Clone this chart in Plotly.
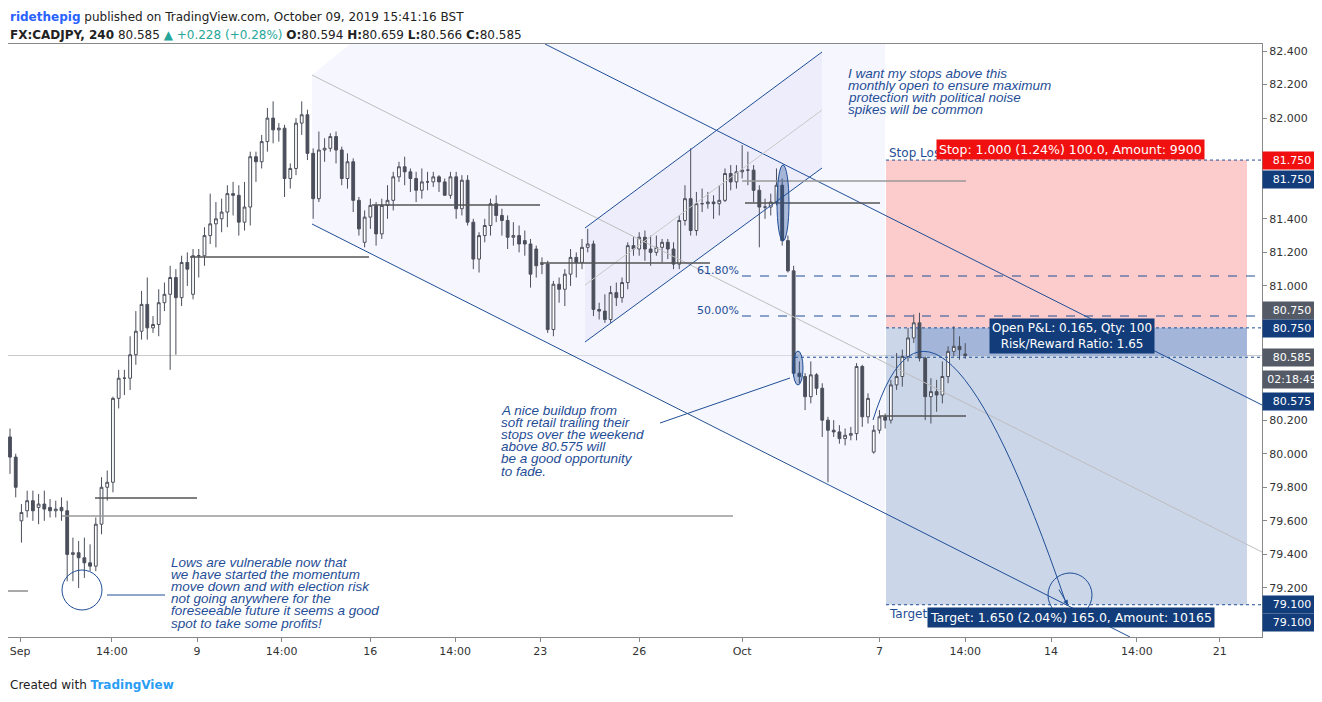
import plotly.graph_objects as go

# ---------------- data (4h candles, FX:CADJPY) ----------------
opens = [80.10,79.98,79.60,79.66,79.72,79.68,79.70,79.68,79.66,79.68,79.66,79.40,79.41,79.38,79.35,79.33,79.58,79.80,79.83,80.33,
         80.45,80.45,80.59,80.73,80.89,80.75,80.77,80.90,80.95,81.05,80.93,81.14,80.95,81.18,81.18,81.30,81.37,81.40,81.44,81.55,
         81.54,81.38,81.47,81.77,81.74,81.86,82.00,81.93,81.94,81.64,81.70,81.97,82.02,81.79,81.52,81.81,81.82,81.89,81.81,81.64,
         81.74,81.51,81.26,81.41,81.48,81.31,81.48,81.51,81.65,81.71,81.68,81.64,81.57,81.62,81.62,81.65,81.62,81.54,81.65,81.46,
         81.63,81.38,81.16,81.30,81.36,81.49,81.42,81.39,81.29,81.30,81.27,81.25,81.22,81.13,81.13,80.74,81.01,80.98,81.07,81.17,
         81.14,81.23,81.25,80.86,80.85,80.80,80.96,80.93,81.02,81.24,81.22,81.29,81.22,81.20,81.23,81.26,81.22,81.13,81.39,81.52,
         81.33,81.49,81.49,81.50,81.49,81.51,81.67,81.62,81.68,81.69,81.69,81.57,81.47,81.47,81.50,81.60,81.27,81.09,80.48,80.46,
         80.34,80.47,80.39,80.20,80.14,80.13,80.09,80.11,80.12,80.52,80.22,80.01,80.14,80.22,80.20,80.41,80.46,80.58,80.69,80.78,
         80.57,80.34,80.37,80.35,80.46,80.61,80.64,80.594]
closes = [79.98,79.80,79.65,79.72,79.66,79.70,79.67,79.66,79.67,79.66,79.40,79.41,79.38,79.35,79.33,79.58,79.80,79.83,80.33,80.45,
          80.45,80.59,80.73,80.89,80.75,80.77,80.90,80.95,81.05,80.93,81.14,81.10,81.18,81.18,81.30,81.37,81.40,81.44,81.55,81.54,
          81.38,81.47,81.77,81.74,81.86,82.00,81.93,81.94,81.64,81.70,81.97,82.02,81.79,81.52,81.81,81.82,81.89,81.81,81.64,81.74,
          81.51,81.34,81.41,81.48,81.31,81.48,81.51,81.65,81.71,81.68,81.64,81.57,81.62,81.62,81.65,81.62,81.54,81.65,81.46,81.63,
          81.38,81.16,81.30,81.36,81.49,81.42,81.39,81.29,81.30,81.25,81.25,81.07,81.12,81.13,80.74,81.01,80.98,81.07,81.17,81.14,
          81.23,81.25,80.86,80.85,80.80,80.96,80.93,81.02,81.24,81.22,81.29,81.22,81.20,81.23,81.26,81.22,81.13,81.39,81.52,81.33,
          81.49,81.49,81.50,81.49,81.51,81.67,81.62,81.68,81.69,81.69,81.57,81.47,81.47,81.50,81.60,81.27,81.09,80.48,80.46,80.34,
          80.47,80.39,80.20,80.14,80.13,80.09,80.11,80.12,80.52,80.22,80.33,80.14,80.22,80.20,80.41,80.46,80.58,80.69,80.78,80.57,
          80.34,80.37,80.35,80.46,80.61,80.64,80.62,80.585]
highs = [80.15,80.00,79.70,79.78,79.78,79.76,79.78,79.73,79.72,79.74,79.72,79.50,79.48,79.50,79.46,79.62,79.86,79.90,80.34,80.50,
         80.50,80.70,80.85,80.97,81.05,80.82,80.98,81.02,81.12,81.10,81.18,81.20,81.22,81.22,81.35,81.55,81.50,81.52,81.60,81.62,
         81.60,81.62,81.80,81.80,81.90,82.06,82.10,81.97,81.96,81.73,82.00,82.10,82.05,81.82,81.92,81.88,81.91,81.92,81.83,81.79,
         81.76,81.53,81.45,81.52,81.50,81.52,81.60,81.68,81.74,81.77,81.70,81.68,81.70,81.68,81.68,81.66,81.64,81.68,81.68,81.66,
         81.66,81.40,81.32,81.40,81.52,81.54,81.46,81.42,81.38,81.36,81.33,81.28,81.24,81.17,81.15,81.03,81.05,81.10,81.22,81.20,
         81.28,81.34,81.27,80.90,80.95,81.00,81.02,81.05,81.26,81.29,81.32,81.33,81.30,81.30,81.28,81.28,81.26,81.42,81.60,81.82,
         81.56,81.58,81.56,81.54,81.60,81.70,81.72,81.72,81.84,81.80,81.72,81.60,81.52,81.55,81.70,81.64,81.30,81.12,80.55,80.48,
         80.55,80.48,80.42,80.22,80.20,80.17,80.15,80.16,80.54,80.53,80.36,80.17,80.26,80.24,80.44,80.60,80.62,80.75,80.83,80.84,
         80.58,80.45,80.44,80.55,80.64,80.76,80.70,80.659]
lows = [79.88,79.74,79.47,79.62,79.60,79.58,79.60,79.62,79.62,79.60,79.24,79.24,79.20,79.26,79.30,79.30,79.52,79.72,79.77,80.27,
        80.35,80.38,80.53,80.68,80.68,80.72,80.70,80.85,80.50,80.59,80.88,81.00,80.92,81.05,81.12,81.25,81.23,81.32,81.35,81.42,
        81.30,81.33,81.36,81.62,81.70,81.80,81.85,81.86,81.53,81.58,81.66,81.90,81.75,81.40,81.50,81.74,81.80,81.73,81.60,81.58,
        81.44,81.30,81.23,81.34,81.24,81.28,81.40,81.45,81.62,81.60,81.56,81.50,81.52,81.57,81.59,81.56,81.54,81.52,81.40,81.42,
        81.36,81.10,81.08,81.26,81.30,81.38,81.30,81.22,81.24,81.20,81.18,80.99,81.05,81.07,80.72,80.70,80.90,80.88,81.00,81.05,
        81.10,81.20,80.82,80.80,80.78,80.78,80.88,80.90,80.98,81.18,81.18,81.15,81.12,81.18,81.14,81.16,81.10,81.10,81.36,81.30,
        81.30,81.44,81.46,81.40,81.42,81.50,81.57,81.58,81.64,81.60,81.50,81.23,81.40,81.42,81.48,81.24,81.08,80.46,80.42,80.26,
        80.30,80.35,80.10,79.83,80.10,80.06,80.05,80.08,80.08,80.16,80.18,80.00,80.12,80.15,80.18,80.38,80.40,80.55,80.66,80.55,
        80.20,80.18,80.25,80.30,80.42,80.58,80.56,80.566]

tick_labels = ["Sep", "14:00", "9", "14:00", "16", "14:00", "23", "26", "Oct", "7", "14:00", "14", "14:00", "21"]
tick_pos = [1.75, 17.8, 32.7, 47.5, 63, 77.8, 92.7, 110, 128, 152, 167, 182, 197, 211.5]
price_ticks = [79.2, 79.4, 79.6, 79.8, 80.0, 80.2, 81.0, 81.2, 81.4, 82.0, 82.2, 82.4]

stop_price, entry_price, target_price, last_price = 81.75, 80.75, 79.10, 80.585

note_top = ["I want my stops above this", "monthly open to ensure maximum",
            "protection with political noise", "spikes will be common"]
note_mid = ["A nice buildup from", "soft retail trailing their", "stops over the weekend",
            "above 80.575 will", "be a good opportunity", "to fade."]
note_low = ["Lows are vulnerable now that", "we have started the momentum",
            "move down and with election risk", "not going anywhere for the",
            "foreseeable future it seems a good", "spot to take some profits!"]

# ---------------- pixel helpers for drawings (window pixels) ----------------
def X(p): return (p - 10) / 5.72
def Y(p): return 82.4 - (p - 51) / 167.8

idx = list(range(len(opens)))
fig = go.Figure()

BLUE = "#1f4e96"
NAVY = "#133d7a"
shapes = []
def line(x0, y0, x1, y1, color=BLUE, w=1, dash=None):
    shapes.append(dict(type="line", x0=X(x0), y0=Y(y0), x1=X(x1), y1=Y(y1),
                       line=dict(color=color, width=w, dash=dash), layer="above"))
def poly(pts, fill, layer="below"):
    d = "M " + " L ".join(f"{X(a)},{Y(b)}" for a, b in pts) + " Z"
    shapes.append(dict(type="path", path=d, fillcolor=fill, line=dict(width=0), layer=layer))
def rect(x0, y0, x1, y1, fill):
    shapes.append(dict(type="rect", x0=X(x0), x1=X(x1), y0=y0, y1=y1, fillcolor=fill,
                       line=dict(width=0), layer="below"))

poly([(312, 75), (312, 224), (885, 512), (885, 44), (350, 44)], "rgba(236,236,252,0.45)")
poly([(585, 228), (585, 342), (822, 168), (822, 52)], "rgba(232,232,250,0.6)")
rect(886, entry_price, 1247, stop_price, "rgba(250,170,170,0.6)")
rect(886, target_price, 1247, entry_price, "rgba(160,180,215,0.55)")
rect(915, last_price, 1247, entry_price, "rgba(90,120,185,0.35)")

line(545, 44, 1262, 405)
line(312, 224, 1130, 637)
line(312, 75, 1262, 552, color="#bdbdbd")
line(585, 228, 822, 52)
line(585, 342, 822, 168)
line(585, 285, 822, 110, color="#c8c8c8")
line(8, 591, 28, 591, color="#555")
line(95, 498, 197, 498, color="#555", w=1.5)
line(62, 516, 733, 516, color="#999", w=1.5)
line(190, 257, 369, 257, color="#555", w=1.5)
line(372, 205, 540, 205, color="#555", w=1.5)
line(540, 263, 710, 263, color="#555", w=1.5)
line(742, 181, 966, 181, color="#999", w=1.5)
line(745, 203, 880, 203, color="#555", w=1.5)
line(880, 416, 966, 416, color="#555", w=1.5)
shapes.append(dict(type="line", xref="paper", x0=0, x1=1, y0=last_price, y1=last_price,
                   line=dict(color="#c8c8c8", width=1), layer="below"))
line(742, 276, 1262, 276, dash="dash")
line(742, 316, 1262, 316, dash="dash")
for pr, x0 in [(stop_price, 886), (entry_price, 886), (80.575, 795), (target_price, 886)]:
    shapes.append(dict(type="line", x0=X(x0), x1=X(1262), y0=pr, y1=pr, line=dict(color=BLUE, width=1, dash="dot")))
line(660, 423, 790, 378)
line(107, 595, 165, 595)
def ell(cx, cy, rx, ry, fill="rgba(0,0,0,0)"):
    shapes.append(dict(type="circle", x0=X(cx - rx), x1=X(cx + rx), y0=Y(cy + ry), y1=Y(cy - ry),
                       line=dict(color=BLUE, width=1), fillcolor=fill, layer="above"))
ell(82, 590, 20, 20)
ell(1070, 595, 22, 22)
ell(783, 203, 6, 38, "rgba(31,78,150,0.35)")
ell(798, 368, 5, 17, "rgba(31,78,150,0.35)")
shapes.append(dict(type="path", path=f"M {X(873)},{Y(420)} Q {X(935)},{Y(220)} {X(1066)},{Y(603)}",
                   line=dict(color=BLUE, width=1)))

fig.add_trace(go.Candlestick(
    x=idx, open=opens, high=highs, low=lows, close=closes,
    increasing=dict(line=dict(color="#4b4f5b", width=1), fillcolor="#ffffff"),
    decreasing=dict(line=dict(color="#4b4f5b", width=1), fillcolor="#4b4f5b"),
    whiskerwidth=0, showlegend=False, hoverinfo="skip"))

ann = []
def txt(x, y, s, color=BLUE, size=12, italic=False, xanchor="left", yanchor="middle", **kw):
    ann.append(dict(x=X(x), y=Y(y), text=s, showarrow=False, xanchor=xanchor, yanchor=yanchor, align="left",
                    font=dict(color=color, size=size, family="DejaVu Sans" if not italic else "Liberation Sans",
                              style="italic" if italic else "normal"), **kw))

for lines, x0, y0 in [(note_top, 846, 73), (note_mid, 499, 410), (note_low, 169, 562)]:
    for i, s in enumerate(lines):
        txt(x0, y0 + i * 12.2, s, italic=True, size=13.5)
txt(741, 270, "61.80%", size=11, xanchor="right")
txt(741, 310, "50.00%", size=11, xanchor="right")
txt(887, 153, "Stop Loss", size=12)
txt(887, 614, "Target", size=12)
txt(1070, 149, "Stop: 1.000 (1.24%) 100.0, Amount: 9900", color="white", size=12.5, xanchor="center",
    bgcolor="#f01010", borderpad=2)
txt(1071, 617, "Target: 1.650 (2.04%) 165.0, Amount: 10165", color="white", size=12.5, xanchor="center",
    bgcolor=NAVY, borderpad=2)
txt(1072, 336, "Open P&L: 0.165, Qty: 100<br>Risk/Reward Ratio: 1.65", color="white", size=12, xanchor="center",
    bgcolor=NAVY, borderpad=2)
ann[-1]["align"] = "center"
ann.append(dict(x=X(1068), y=Y(605), ax=X(1058), ay=Y(588), xref="x", yref="y", axref="x", ayref="y",
                showarrow=True, arrowhead=2, arrowsize=1, arrowwidth=1, arrowcolor=BLUE, text=""))

def plabel(price, s, bg, fg="white", dy=0):
    ann.append(dict(xref="paper", x=1.0, y=price, yshift=dy, text=s, showarrow=False, xanchor="left",
                    yanchor="middle", bgcolor=bg, font=dict(color=fg, size=11, family="DejaVu Sans"),
                    borderpad=2, width=54))
plabel(81.75, "81.750", "#f01010", dy=0)
plabel(81.75, "81.750", NAVY, dy=-19)
plabel(80.75, "80.750", "#555b66", dy=17)
plabel(80.75, "80.750", NAVY, dy=-1)
plabel(80.585, "80.585", "#555b66", dy=-2)
plabel(80.585, "02:18:49", "#555b66", dy=-24)
plabel(80.575, "80.575", NAVY, dy=-44)
plabel(79.10, "79.100", NAVY, dy=0)
plabel(79.10, "79.100", NAVY, dy=-18)

ann.append(dict(xref="paper", yref="paper", x=-0.0, y=1, yshift=36, xanchor="left", yanchor="top", showarrow=False,
                text="<b><span style='color:#2962ff'>ridethepig</span></b> published on TradingView.com, October 09, 2019 15:41:16 BST",
                font=dict(size=12, color="#222", family="DejaVu Sans")))
ann.append(dict(xref="paper", yref="paper", x=-0.0, y=1, yshift=18, xanchor="left", yanchor="top", showarrow=False,
                text="<b>FX:CADJPY, 240</b> 80.585 <span style='color:#26a69a'>▲ +0.228 (+0.28%)</span> <b>O:</b>80.594 <b>H:</b>80.659 <b>L:</b>80.566 <b>C:</b>80.585",
                font=dict(size=12, color="#222", family="DejaVu Sans")))
ann.append(dict(xref="paper", yref="paper", x=-0.0, y=0, yshift=-39, xanchor="left", yanchor="top", showarrow=False,
                text="Created with <span style='color:#2a9df4'><b>TradingView</b></span>",
                font=dict(size=12, color="#222", family="DejaVu Sans")))

# the page body adds an 8px margin, so the figure is offset 8px in the window
fig.update_layout(
    width=1314, height=694, margin=dict(l=0, r=60, t=36, b=65, autoexpand=False),
    paper_bgcolor="white", plot_bgcolor="white", shapes=shapes, annotations=ann,
    xaxis=dict(range=[X(8), X(1262)], tickvals=tick_pos, ticktext=tick_labels, showgrid=False,
               zeroline=False, rangeslider=dict(visible=False), showline=True, linecolor="#888", mirror=True,
               ticks="outside", ticklen=4, tickcolor="#888", tickfont=dict(size=11, color="#333", family="DejaVu Sans")),
    yaxis=dict(range=[Y(637), Y(44)], side="right", tickvals=price_ticks,
               ticktext=[f"{v:.3f}" for v in price_ticks], showgrid=False, zeroline=False,
               showline=True, linecolor="#888", mirror=True, ticks="outside", ticklen=4, tickcolor="#888",
               tickfont=dict(size=11, color="#333", family="DejaVu Sans")),
)
fig.write_html("out.html")
